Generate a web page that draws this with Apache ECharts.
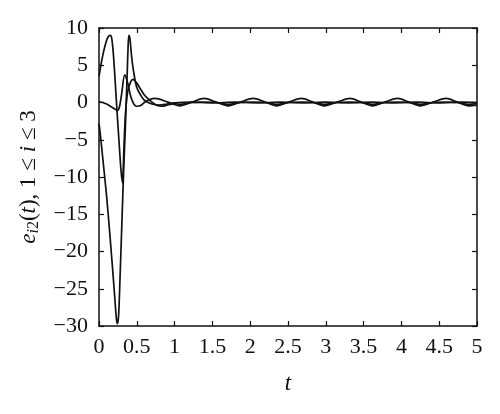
<!DOCTYPE html>
<html><head><meta charset="utf-8">
<script src="https://cdn.jsdelivr.net/npm/echarts@6/dist/echarts.min.js"></script>
<style>html,body{margin:0;padding:0;background:#fff}#c{width:500px;height:414px}</style>
</head><body><div id="c"></div>
<script>
// time samples and values for each error curve e_{i2}(t)
const tA = [0,0.02,0.05,0.1,0.15,0.2,0.23,0.245,0.26,0.28,0.3,0.33,0.35,0.37,0.385,0.395,0.41,0.43,0.46,0.5,0.55,0.6,0.7,0.8,0.9,1.0,1.2,1.5,1.8,2.1,2.4,2.7,3.0,3.3,3.6,3.9,4.2,4.5,4.8,5.0];
const vA = [-2.8,-4.5,-7.5,-12.5,-18.5,-25,-29,-29.7,-28.5,-23,-17,-8,-3,3,7.5,9,8.5,6.3,4,2,1,0.3,-0.2,-0.35,-0.2,-0.05,0.05,-0.05,0.05,-0.05,0.05,-0.05,0.05,-0.05,0.05,-0.05,0.05,-0.05,0.05,0];
const tB = [0,0.03,0.06,0.09,0.12,0.15,0.17,0.19,0.21,0.23,0.25,0.27,0.29,0.31,0.33,0.35,0.38,0.42,0.45,0.5,0.55,0.6,0.67,0.75,0.83,0.92,1.0,1.07,1.23,1.39,1.55,1.71,1.87,2.04,2.2,2.35,2.51,2.68,2.83,2.98,3.15,3.32,3.47,3.62,3.78,3.95,4.1,4.25,4.42,4.59,4.74,4.89,5.0];
const vB = [3.5,5.3,6.8,8,8.8,9,8.5,6.5,3.5,0.2,-3,-6,-9,-10.8,-6,-1.5,1.5,2.8,3.1,2.6,1.8,1.0,0.3,-0.3,-0.5,-0.3,-0.15,-0.25,0,0.05,0,-0.25,0,0.05,0,-0.25,0,0.05,0,-0.25,0,0.05,0,-0.25,0,0.05,0,-0.25,0,0.05,0,-0.25,-0.15];
const tC = [0,0.05,0.1,0.15,0.2,0.24,0.27,0.3,0.34,0.38,0.42,0.46,0.5,0.55,0.6,0.67,0.74,0.91,1.07,1.23,1.39,1.55,1.71,1.87,2.04,2.2,2.35,2.51,2.68,2.83,2.98,3.15,3.32,3.47,3.62,3.78,3.95,4.1,4.25,4.42,4.59,4.74,4.89,5.0];
const vC = [0.1,0,-0.2,-0.5,-0.8,-1.1,-0.6,1.2,3.7,2.6,0.8,-0.2,-0.5,-0.4,0,0.4,0.55,0.05,-0.45,0.05,0.55,0.05,-0.45,0.05,0.55,0.05,-0.45,0.05,0.55,0.05,-0.45,0.05,0.55,0.05,-0.45,0.05,0.55,0.05,-0.45,0.05,0.55,0.05,-0.45,-0.35];
const xTicks = {min:0, max:5, interval:0.5};
const yTicks = {min:-30, max:10, interval:5};

const zip = (t, v) => t.map((x, i) => [x, v[i]]);
const font = '"Liberation Serif", "DejaVu Serif", serif';
const minus = v => String(v).replace('-', '\u2212');
const lineStyle = {color:'#111', width:1.7};
const axisLine = {show:true, onZero:false, lineStyle:{color:'#111', width:1.5}};
const tick = {show:true, inside:true, length:5, lineStyle:{color:'#111', width:1.2}};

const chart = echarts.init(document.getElementById('c'));
chart.setOption({
  animation:false,
  backgroundColor:'#fff',
  grid:{left:99, right:23, top:28, bottom:88, show:false},
  xAxis:[
    {type:'value', min:xTicks.min, max:xTicks.max, interval:xTicks.interval, position:'bottom',
     axisLine, axisTick:tick, splitLine:{show:false},
     axisLabel:{fontFamily:font, fontSize:22, color:'#111', margin:10, formatter:minus},
     name:'t', nameLocation:'middle', nameGap:46,
     nameTextStyle:{fontFamily:font, fontSize:23, fontStyle:'italic', color:'#111'}},
    {type:'value', min:xTicks.min, max:xTicks.max, interval:xTicks.interval, position:'top',
     axisLine, axisTick:tick, axisLabel:{show:false}, splitLine:{show:false}}
  ],
  yAxis:[
    {type:'value', min:yTicks.min, max:yTicks.max, interval:yTicks.interval, position:'left',
     axisLine, axisTick:tick, splitLine:{show:false},
     axisLabel:{fontFamily:font, fontSize:22, color:'#111', margin:11, formatter:minus},
     name:'{it|e}{sub|i}{sb|2}{n|(}{it|t}{n|), 1 \u2264 }{it|i}{n| \u2264 3}',
     nameLocation:'middle', nameGap:57,
     nameTextStyle:{fontFamily:font, fontSize:23, color:'#111',
       rich:{
         it:{fontFamily:font, fontSize:23, fontStyle:'italic', color:'#111'},
         n:{fontFamily:font, fontSize:23, color:'#111'},
         sub:{fontFamily:font, fontSize:16, fontStyle:'italic', color:'#111', verticalAlign:'bottom', padding:[10,0,0,0]},
         sb:{fontFamily:font, fontSize:16, color:'#111', verticalAlign:'bottom', padding:[10,0,0,0]}
       }}},
    {type:'value', min:yTicks.min, max:yTicks.max, interval:yTicks.interval, position:'right',
     axisLine, axisTick:tick, axisLabel:{show:false}, splitLine:{show:false}}
  ],
  series:[
    {type:'line', data:zip(tA, vA), showSymbol:false, smooth:0.3, lineStyle},
    {type:'line', data:zip(tB, vB), showSymbol:false, smooth:0.3, lineStyle},
    {type:'line', data:zip(tC, vC), showSymbol:false, smooth:0.3, lineStyle}
  ]
});
</script></body></html>
